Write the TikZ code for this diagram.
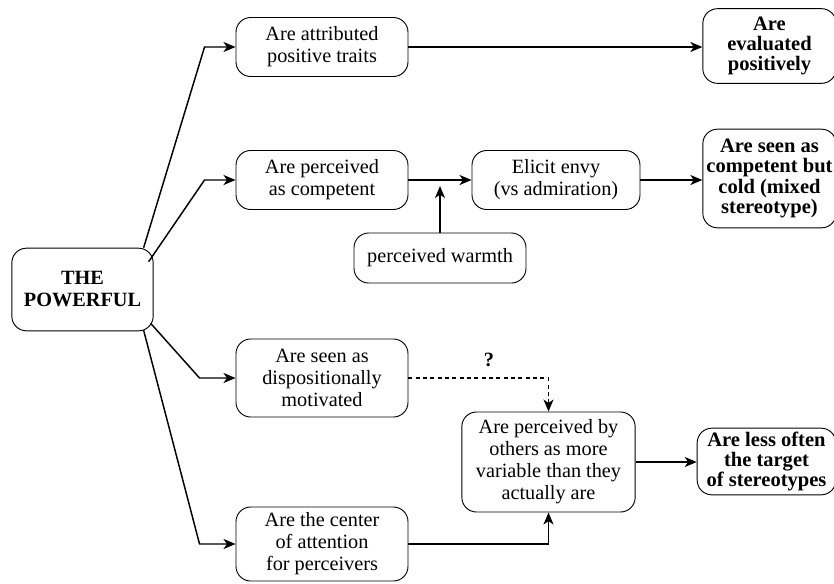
\documentclass[tikz,border=0pt]{standalone}
\usepackage{fontspec}
\setmainfont{Liberation Serif}
\usetikzlibrary{arrows.meta,calc}
\begin{document}
\begin{tikzpicture}[x=0.75pt,y=-0.75pt,
  box/.style={draw, rounded corners=11pt, align=center, inner sep=0pt, line width=0.7pt,
    font=\rmfamily\fontsize{15.2}{16.5}\selectfont},
  pbox/.style={box, font=\rmfamily\fontsize{15.2}{16.5}\selectfont\bfseries},
  bbox/.style={box, font=\rmfamily\fontsize{15.4}{15.2}\selectfont\bfseries},
  arr/.style={-{Stealth[length=9pt,width=7.5pt,inset=2.5pt]}, line width=1.1pt},
  darr/.style={arr, dashed, dash pattern=on 3pt off 2.5pt}]
\useasboundingbox (0,0) rectangle (834,583);
\node[pbox, minimum width=106pt, minimum height=62pt] (pow) at (82.5,289.5) {THE\\POWERFUL};
\node[box, minimum width=129pt, minimum height=44.25pt] (attr) at (322,47) {Are attributed\\positive traits};
\node[box, minimum width=129pt, minimum height=44.25pt] (comp) at (322,180) {Are perceived\\as competent};
\node[box, minimum width=126pt, minimum height=44.25pt] (envy) at (556,180) {Elicit envy\\(vs admiration)};
\node[box, minimum width=129pt, minimum height=37.5pt] (warm) at (440,258) {perceived warmth};
\node[bbox, minimum width=100pt, minimum height=56pt] (eval) at (769.5,46) {Are\\evaluated\\positively};
\node[bbox, minimum width=100pt, minimum height=74pt] (cold) at (769.5,178.5) {Are seen as\\competent but\\cold (mixed\\stereotype)};
\node[box, minimum width=129pt, minimum height=58.5pt] (disp) at (322,378) {Are seen as\\dispositionally\\motivated};
\node[box, minimum width=129pt, minimum height=55.5pt] (cent) at (322,544) {Are the center\\of attention\\for perceivers};
\node[box, minimum width=130pt, minimum height=75pt] (var) at (548.5,462) {Are perceived by\\others as more\\variable than they\\actually are};
\node[bbox, minimum width=104pt, minimum height=50pt] (less) at (766.5,461.5) {Are less often\\the target\\of stereotypes};
\node[font=\rmfamily\fontsize{15.2}{16.5}\selectfont\bfseries] (q) at (489,360) {?};
\draw[arr] ($(pow.north east)+(-10,0)$) -- ($(attr.west)+(-31,0)$) -- (attr.west);
\draw[arr] ($(pow.north east)+(-5,14)$) -- ($(comp.west)+(-31,0)$) -- (comp.west);
\draw[arr] ($(pow.south east)+(-3,-8)$) -- ($(disp.west)+(-36,0)$) -- (disp.west);
\draw[arr] ($(pow.south east)+(-10,-1)$) -- ($(cent.west)+(-36,0)$) -- (cent.west);
\draw[arr] (attr.east) -- (eval.west |- attr.east);
\draw[arr] (comp.east) -- (envy.west);
\draw[arr] (envy.east) -- (cold.west |- envy.east);
\draw[arr] (warm.north) -- ($(warm.north |- comp.east)+(0,6)$);
\draw[darr] (disp.east) -- (disp.east -| var.north) -- (var.north);
\draw[arr] (cent.east) -- (cent.east -| var.south) -- (var.south);
\draw[arr] (var.east) -- (less.west |- var.east);
\end{tikzpicture}
\end{document}
